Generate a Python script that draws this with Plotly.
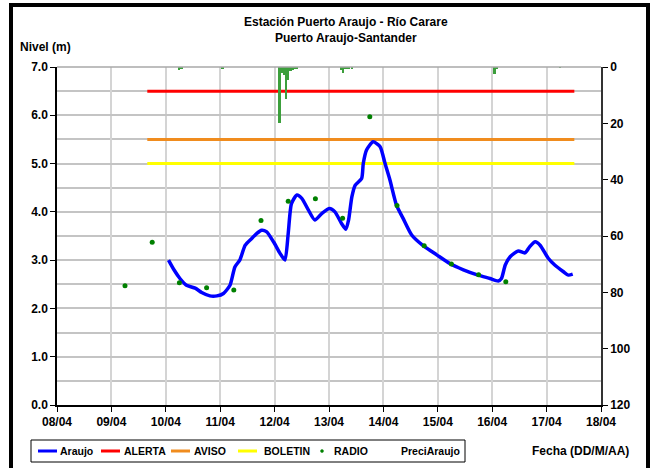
import plotly.graph_objects as go

# ---------------- data ----------------
# time in fractional day of April
araujo_t = [10.05, 10.15, 10.26, 10.38, 10.54, 10.66, 10.81, 10.94, 11.06, 11.18, 11.27, 11.36,
            11.46, 11.58, 11.67, 11.76, 11.85, 11.98, 12.10, 12.19, 12.25, 12.31, 12.41, 12.50,
            12.62, 12.74, 12.87, 13.01, 13.11, 13.23, 13.31, 13.36, 13.42, 13.48, 13.60, 13.63,
            13.69, 13.81, 13.94, 14.03, 14.12, 14.24, 14.36, 14.52, 14.73, 14.98, 15.22, 15.47,
            15.74, 15.96, 16.11, 16.17, 16.24, 16.33, 16.48, 16.60, 16.69, 16.79, 16.88, 17.03,
            17.15, 17.31, 17.40, 17.48]
araujo_v = [3.00, 2.80, 2.62, 2.48, 2.42, 2.33, 2.26, 2.26, 2.31, 2.48, 2.86, 3.00,
            3.31, 3.45, 3.55, 3.62, 3.59, 3.38, 3.14, 3.00, 3.55, 4.17, 4.35, 4.28,
            4.04, 3.83, 3.97, 4.07, 4.00, 3.76, 3.64, 3.83, 4.31, 4.55, 4.69, 5.00,
            5.28, 5.45, 5.35, 5.00, 4.66, 4.14, 3.87, 3.52, 3.30, 3.11, 2.93, 2.80,
            2.69, 2.62, 2.57, 2.62, 2.90, 3.07, 3.19, 3.15, 3.28, 3.38, 3.31, 3.04,
            2.90, 2.76, 2.69, 2.71]

radio_t = [9.25, 9.75, 10.25, 10.75, 11.25, 11.75, 12.25, 12.75, 13.25, 13.75, 14.25, 14.75,
           15.25, 15.75, 16.25]
radio_v = [2.47, 3.37, 2.53, 2.43, 2.38, 3.82, 4.22, 4.27, 3.87, 5.97, 4.13, 3.30,
           2.92, 2.70, 2.55]

thr_t = [9.66, 17.51]
alerta = [6.5, 6.5]
aviso = [5.5, 5.5]
boletin = [5.0, 5.0]

preci_t = [10.24, 10.29, 11.04, 12.09, 12.13, 12.17, 12.21, 12.25, 12.29, 12.33, 12.37, 12.41,
           13.22, 13.26, 13.30, 13.36, 13.42, 16.04, 16.08, 17.25]
preci_v = [1.0, 0.5, 0.6, 20.0, 2.0, 3.0, 11.5, 4.5, 1.5, 1.0, 0.6, 0.4,
           1.0, 2.0, 0.8, 0.5, 0.4, 2.6, 0.4, 0.3]

x_ticks = [8, 9, 10, 11, 12, 13, 14, 15, 16, 17, 18]
x_labels = ["08/04", "09/04", "10/04", "11/04", "12/04", "13/04", "14/04", "15/04",
            "16/04", "17/04", "18/04"]

# ---------------- figure ----------------
FONT = "Liberation Sans, Arial, sans-serif"
BOLD = dict(family=FONT, size=12, color="black", weight="bold")

fig = go.Figure()

fig.add_trace(go.Bar(x=preci_t, y=preci_v, yaxis="y2", name="PreciAraujo",
                     marker=dict(color="#3C9F3C", line=dict(width=0)), width=0.045))
fig.add_trace(go.Scatter(x=thr_t, y=alerta, mode="lines", name="ALERTA",
                         line=dict(color="#FF0000", width=3)))
fig.add_trace(go.Scatter(x=thr_t, y=aviso, mode="lines", name="AVISO",
                         line=dict(color="#F08C1E", width=3)))
fig.add_trace(go.Scatter(x=thr_t, y=boletin, mode="lines", name="BOLETIN",
                         line=dict(color="#FFFF00", width=3)))
fig.add_trace(go.Scatter(x=araujo_t, y=araujo_v, mode="lines", name="Araujo",
                         line=dict(color="#0000FF", width=3.5, shape="spline", smoothing=0.6)))
fig.add_trace(go.Scatter(x=radio_t, y=radio_v, mode="markers", name="RADIO",
                         marker=dict(color="#008000", size=5)))

L, R, T, B = 57, 50, 67, 63
W, H = 651, 468
pw, ph = W - L - R, H - T - B


def px(x):
    return (x - L) / pw


def py(y):
    return (H - B - y) / ph


fig.update_layout(
    width=W, height=H,
    margin=dict(l=L, r=R, t=T, b=B),
    paper_bgcolor="white", plot_bgcolor="white",
    showlegend=False, bargap=0,
    font=BOLD,
    xaxis=dict(range=[8, 18], tickvals=x_ticks, ticktext=x_labels,
               showgrid=True, gridcolor="#D4D4D4", gridwidth=1.5,
               showline=True, linecolor="black", linewidth=1.5,
               ticks="outside", ticklen=5, tickcolor="black",
               tickfont=BOLD, zeroline=False),
    yaxis=dict(range=[0, 7], dtick=1, tickformat=".1f",
               showgrid=True, gridcolor="#C4C4C4", gridwidth=1.5,
               minor=dict(dtick=0.5, showgrid=True, gridcolor="#C4C4C4", gridwidth=1.5),
               showline=True, linecolor="black", linewidth=1.5,
               ticks="outside", ticklen=5, tickcolor="black",
               tickfont=BOLD, zeroline=False),
    yaxis2=dict(range=[120, 0], dtick=20, overlaying="y", side="right",
                showgrid=False, showline=True, linecolor="#333333", linewidth=1.5,
                ticks="outside", ticklen=5, tickcolor="black",
                tickfont=BOLD, zeroline=False),
)

shapes = []
annotations = []
# top border line (gridline at 7.0)
shapes.append(dict(type="line", xref="paper", yref="paper", x0=0, x1=1, y0=1, y1=1,
                   line=dict(color="#A8A8A8", width=1.5)))
# outer frame
shapes.append(dict(type="rect", xref="paper", yref="paper",
                   x0=px(11), x1=px(648), y0=py(5), y1=py(475),
                   line=dict(color="black", width=4)))

# titles
annotations.append(dict(text="Estación Puerto Araujo - Río Carare", xref="paper", yref="paper",
                        x=px(346), y=py(22), showarrow=False, font=BOLD,
                        xanchor="center", yanchor="middle"))
annotations.append(dict(text="Puerto Araujo-Santander", xref="paper", yref="paper",
                        x=px(346), y=py(38), showarrow=False, font=BOLD,
                        xanchor="center", yanchor="middle"))
annotations.append(dict(text="Nivel (m)", xref="paper", yref="paper",
                        x=px(18), y=py(47), showarrow=False, font=BOLD,
                        xanchor="left", yanchor="middle"))
annotations.append(dict(text="Fecha (DD/M/AA)", xref="paper", yref="paper",
                        x=px(580), y=py(451), showarrow=False, font=BOLD,
                        xanchor="center", yanchor="middle"))

# manual legend
LEG_FONT = dict(family=FONT, size=10.5, color="black", weight="bold")
ly = 451
shapes.append(dict(type="rect", xref="paper", yref="paper",
                   x0=px(31), x1=px(465), y0=py(440), y1=py(462),
                   line=dict(color="black", width=1), fillcolor="white"))
legend_items = [("Araujo", "#0000FF", 38, 57, 58),
                ("ALERTA", "#FF0000", 101, 120, 122),
                ("AVISO", "#F08C1E", 171, 190, 192),
                ("BOLETIN", "#FFFF00", 238, 257, 262)]
for name, col, a, b, tx in legend_items:
    shapes.append(dict(type="line", xref="paper", yref="paper", x0=px(a), x1=px(b),
                       y0=py(ly), y1=py(ly), line=dict(color=col, width=3)))
    annotations.append(dict(text=name, xref="paper", yref="paper", x=px(tx), y=py(ly),
                            showarrow=False, font=LEG_FONT, xanchor="left", yanchor="middle"))
shapes.append(dict(type="circle", xref="paper", yref="paper",
                   x0=px(320.5), x1=px(323.5), y0=py(449.5), y1=py(452.5),
                   line=dict(color="#008000", width=0.5), fillcolor="#008000"))
annotations.append(dict(text="RADIO", xref="paper", yref="paper", x=px(332), y=py(ly),
                        showarrow=False, font=LEG_FONT, xanchor="left", yanchor="middle"))
annotations.append(dict(text="PreciAraujo", xref="paper", yref="paper", x=px(399), y=py(ly),
                        showarrow=False, font=LEG_FONT, xanchor="left", yanchor="middle"))

fig.update_layout(shapes=shapes, annotations=annotations)

fig.write_html("out.html", config={"displayModeBar": False},
               post_script="document.body.style.margin='0';")
